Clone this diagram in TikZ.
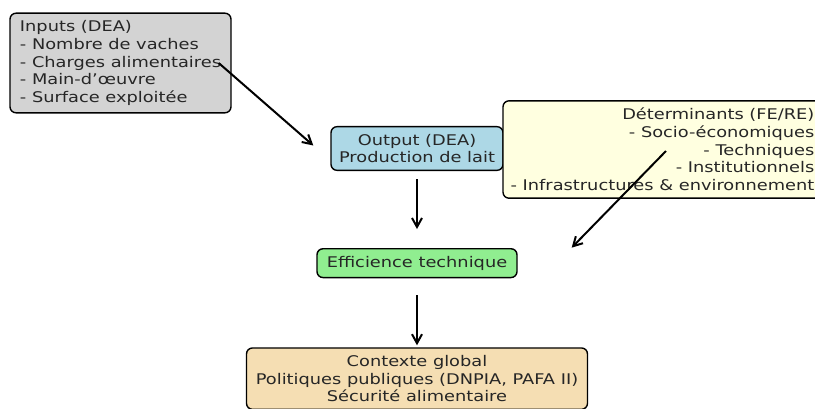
\documentclass[tikz,border=0pt]{standalone}
\usepackage{fontspec}
\setmainfont{DejaVu Sans}[FakeStretch=1.21]
\usetikzlibrary{arrows.meta,positioning}

\definecolor{inputgray}{HTML}{D3D3D3}
\definecolor{outputblue}{HTML}{ADD8E6}
\definecolor{detyellow}{HTML}{FFFFE0}
\definecolor{effgreen}{HTML}{90EE90}
\definecolor{ctxwheat}{HTML}{F5DEB3}

\begin{document}
\begin{tikzpicture}[
    x=1pt, y=-1pt,
    box/.style={draw, rounded corners=6pt, line width=1.4pt, inner sep=7.3pt,
                text=black!85, font=\fontsize{14.7}{17.7}\selectfont},
    arr/.style={-{Straight Barb[length=9pt,width=10pt]}, line width=2pt}
  ]
    \useasboundingbox (0,0) rectangle (815,408);
    \clip (0,0) rectangle (815,408);

    \node[box, fill=inputgray, align=left, minimum width=221pt] (inputs) at (120.5,63)
      {Inputs (DEA)\\- Nombre de vaches\\- Charges alimentaires\\- Main-d'œuvre\\- Surface exploitée};
    \node[box, fill=outputblue, align=center, minimum width=172pt] (output) at (417,148.5)
      {Output (DEA)\\Production de lait};
    \node[box, fill=detyellow, align=right, minimum width=319pt] (det) at (662.5,149.5)
      {Déterminants (FE/RE)\\- Socio-économiques\\- Techniques\\- Institutionnels\\- Infrastructures \& environnement};
    \node[box, fill=effgreen, minimum width=200pt, below=77pt of output.south, anchor=north] (eff)
      {Efficience technique};
    \node[box, fill=ctxwheat, align=center, minimum width=341pt, below=69pt of eff.south, anchor=north] (ctx)
      {Contexte global\\Politiques publiques (DNPIA, PAFA II)\\Sécurité alimentaire};

    \draw[arr] ([xshift=-13pt]inputs.east) -- ([xshift=-17pt,yshift=3pt]output.west);
    \draw[arr, shorten <=8pt, shorten >=19pt] (output.south) -- (output.south |- eff.north);
    \draw[arr] ([xshift=3.5pt,yshift=-1.5pt]det.center) -- ([xshift=54pt,yshift=15.5pt]eff.east);
    \draw[arr, shorten <=17pt, shorten >=2pt] (eff.south) -- (eff.south |- ctx.north);
\end{tikzpicture}
\end{document}
